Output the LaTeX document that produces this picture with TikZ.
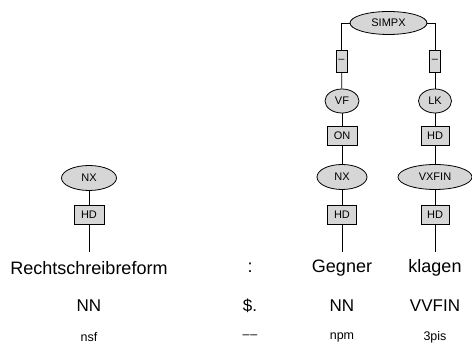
\documentclass[tikz,border=0pt]{standalone}
\usepackage{fontspec}
\setmainfont{Liberation Sans}
\usetikzlibrary{shapes.geometric}
\begin{document}
\begin{tikzpicture}[x=1pt,y=-1pt,line width=0.8pt,
  cat/.style={ellipse,draw,fill=black!16,inner sep=0pt,font=\fontsize{11}{12}\selectfont},
  fn/.style={rectangle,draw,fill=black!16,inner sep=0pt,minimum height=19,font=\fontsize{11}{12}\selectfont},
  wordt/.style={inner sep=0pt,font=\fontsize{18}{20}\selectfont},
  post/.style={inner sep=0pt,font=\fontsize{17}{20}\selectfont},
  morph/.style={inner sep=0pt,font=\fontsize{12.5}{14}\selectfont}]
\useasboundingbox (0,0) rectangle (472,344);
% top
\node[cat,minimum width=77,minimum height=23] (simpx) at (388.5,23) {SIMPX};
\node[fn,minimum width=11,minimum height=22] (d1) at (341.5,61) {–};
\node[fn,minimum width=11,minimum height=22] (d2) at (435,61) {–};
\node[cat,minimum width=34,minimum height=24] (vf) at (342,101) {VF};
\node[cat,minimum width=33,minimum height=24] (lk) at (435,101) {LK};
\node[fn,minimum width=30] (on) at (342,136) {ON};
\node[fn,minimum width=28] (hd1) at (435,136) {HD};
\node[cat,minimum width=50,minimum height=25] (nx2) at (342,177) {NX};
\node[cat,minimum width=74,minimum height=25] (vxfin) at (435,177) {VXFIN};
\node[fn,minimum width=29] (hd2) at (342,215) {HD};
\node[fn,minimum width=28] (hd3) at (435,215) {HD};
% left
\node[cat,minimum width=55,minimum height=25] (nx1) at (89,178) {NX};
\node[fn,minimum width=30] (hd0) at (89,215) {HD};
% leaves
\coordinate (e0) at (89,252);
\coordinate (e2) at (342,252);
\coordinate (e3) at (435,252);
\node[wordt] (w0) at (89,268) {Rechtschreibreform};
\node[wordt] (w1) at (250,268) {:};
\node[wordt] (w2) at (342,268) {Gegner};
\node[wordt] (w3) at (435,268) {klagen};
\node[post] (p0) at (89,306) {NN};
\node[post] (p1) at (250,306) {\$.};
\node[post] (p2) at (342,306) {NN};
\node[post] (p3) at (435,306) {VVFIN};
\node[morph] (m0) at (89,337) {nsf};
\node[morph] (m1) at (250,337) {–\kern1pt–};
\node[morph] (m2) at (342,337) {npm};
\node[morph] (m3) at (435,337) {3pis};
% edges
\draw (simpx.west) -| (d1.north);
\draw (simpx.east) -| (d2.north);
\draw (d1) -- (vf);
\draw (d2) -- (lk);
\draw (vf) -- (on);
\draw (lk) -- (hd1);
\draw (on) -- (nx2);
\draw (hd1) -- (vxfin);
\draw (nx2) -- (hd2);
\draw (vxfin) -- (hd3);
\draw (hd2) -- (e2);
\draw (hd3) -- (e3);
\draw (nx1) -- (hd0);
\draw (hd0) -- (e0);
\end{tikzpicture}
\end{document}
